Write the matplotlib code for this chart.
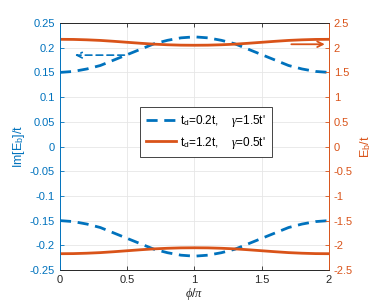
import matplotlib.pyplot as plt
import numpy as np

plt.rcParams['font.family'] = ['Liberation Sans', 'DejaVu Sans']
plt.rcParams['mathtext.fontset'] = 'custom'
plt.rcParams['mathtext.it'] = 'Liberation Serif:italic'
plt.rcParams['mathtext.rm'] = 'Liberation Sans'

blue = '#0072BD'
orange = '#D95319'

# phi / pi
phi = [0.0, 0.1, 0.2, 0.3, 0.4, 0.5, 0.6, 0.7, 0.8, 0.9, 1.0,
       1.1, 1.2, 1.3, 1.4, 1.5, 1.6, 1.7, 1.8, 1.9, 2.0]
# Im[E_b]/t for t_d=0.2t, gamma=1.5t' (upper branch; lower is its mirror)
im_eb = [0.150, 0.152, 0.157, 0.164, 0.175, 0.186, 0.197, 0.208, 0.215, 0.220, 0.222,
         0.220, 0.215, 0.208, 0.197, 0.186, 0.175, 0.164, 0.157, 0.152, 0.150]
# E_b/t for t_d=1.2t, gamma=0.5t' (upper branch; lower is its mirror)
eb = [2.170, 2.168, 2.160, 2.148, 2.130, 2.110, 2.090, 2.072, 2.060, 2.052, 2.050,
      2.052, 2.060, 2.072, 2.090, 2.110, 2.130, 2.148, 2.160, 2.168, 2.170]

phi = np.array(phi)
im_eb = np.array(im_eb)
eb = np.array(eb)

fig = plt.figure(figsize=(3.82, 3.07), dpi=100)
ax = fig.add_axes([0.157, 0.1205, 0.704, 0.8045])
ax2 = ax.twinx()

dash = (4, 2.4)
l1, = ax.plot(phi, im_eb, '--', color=blue, lw=2, dashes=dash)
ax.plot(phi, -im_eb, '--', color=blue, lw=2, dashes=dash)
l2, = ax2.plot(phi, eb, '-', color=orange, lw=2)
ax2.plot(phi, -eb, '-', color=orange, lw=2)

ax.set_xlim(0, 2)
ax.set_ylim(-0.25, 0.25)
ax2.set_ylim(-2.5, 2.5)
ax.set_xticks([0, 0.5, 1, 1.5, 2])
ax.set_xticklabels(['0', '0.5', '1', '1.5', '2'])
ax.set_yticks(np.arange(-0.25, 0.26, 0.05))
ax.set_yticklabels(['-0.25', '-0.2', '-0.15', '-0.1', '-0.05', '0',
                    '0.05', '0.1', '0.15', '0.2', '0.25'])
ax2.set_yticks(np.arange(-2.5, 2.6, 0.5))
ax2.set_yticklabels(['-2.5', '-2', '-1.5', '-1', '-0.5', '0',
                     '0.5', '1', '1.5', '2', '2.5'])

ax.grid(True, color='#e6e6e6', lw=0.6)
ax.set_axisbelow(True)
for a in (ax, ax2):
    a.tick_params(direction='in', length=3, width=0.6, labelsize=8)
ax.tick_params(axis='x', colors='#262626', top=True)
ax.tick_params(axis='y', colors=blue)
ax2.tick_params(axis='y', colors=orange)
for a in (ax, ax2):
    a.spines['top'].set_color('#262626')
    a.spines['bottom'].set_color('#262626')
    a.spines['left'].set_color(blue)
    a.spines['right'].set_color(orange)
    for s in a.spines.values():
        s.set_linewidth(0.6)

ax.set_xlabel(r'$\phi/\pi$', fontsize=9, color='#262626', labelpad=1)
ax.set_ylabel(r'Im[E$_{\rm b}$]/t', fontsize=9, color=blue, labelpad=2)
ax2.set_ylabel(r'E$_{\rm b}$/t', fontsize=9, color=orange, labelpad=4)

ax.annotate('', xy=(0.09, 0.185), xytext=(0.5, 0.185),
            arrowprops=dict(arrowstyle='->', color=blue, lw=1.2, ls=(0, (4, 2.5))))
ax2.annotate('', xy=(1.99, 2.07), xytext=(1.7, 2.07),
             arrowprops=dict(arrowstyle='->', color=orange, lw=1.3))

leg = ax.legend([l1, l2],
                [r"t$_{\rm d}$=0.2t,    $\gamma$=1.5t'",
                 r"t$_{\rm d}$=1.2t,    $\gamma$=0.5t'"],
                loc='center', bbox_to_anchor=(0.543, 0.559), fontsize=8.5,
                fancybox=False, edgecolor='#262626', framealpha=1,
                handlelength=2.5, borderpad=0.5, labelspacing=0.45,
                handletextpad=0.4)
leg.get_frame().set_linewidth(0.6)

fig.savefig('out.png', dpi=100)
